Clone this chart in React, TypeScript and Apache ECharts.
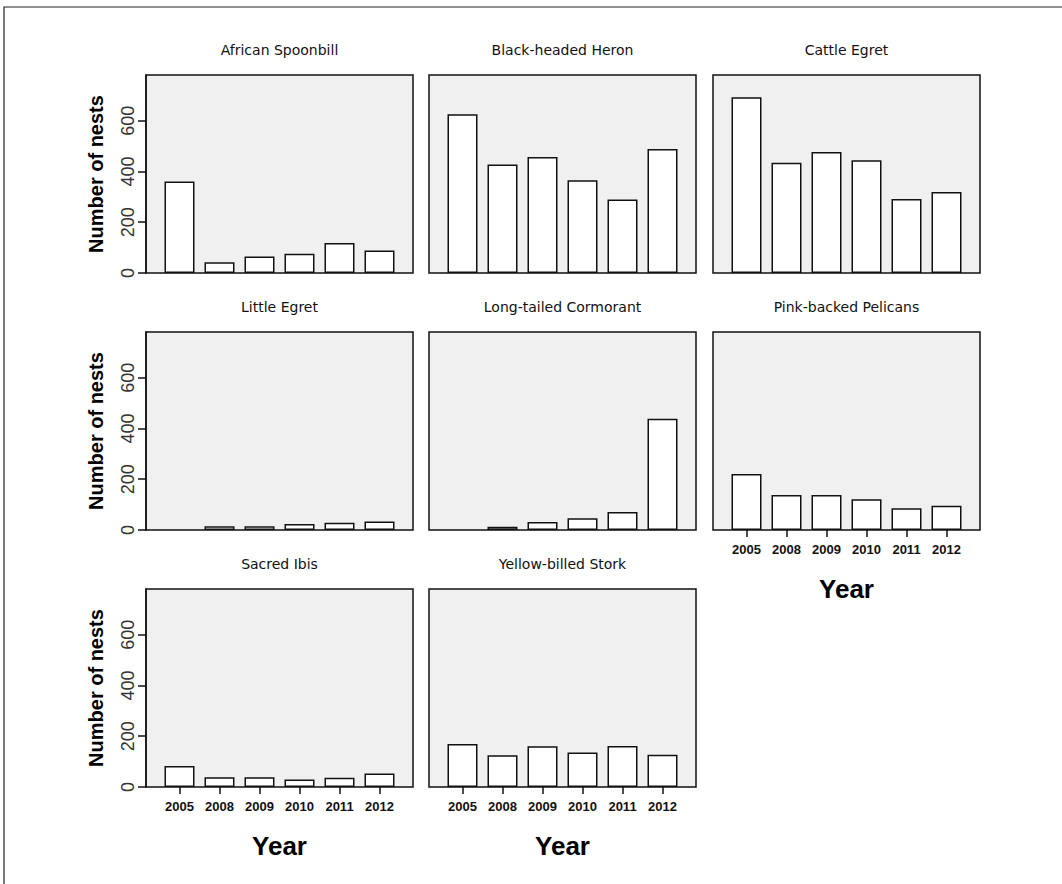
import React, { useEffect, useRef } from "react";
import * as echarts from "echarts";

const YEARS = ["2005", "2008", "2009", "2010", "2011", "2012"];
const Y_TICKS = [0, 200, 400, 600];
const Y_MAX = 780;

const AFRICAN_SPOONBILL = [360, 42, 65, 76, 118, 89];
const BLACK_HEADED_HERON = [625, 427, 457, 365, 290, 488];
const CATTLE_EGRET = [692, 434, 477, 444, 292, 319];
const LITTLE_EGRET = [null, 15, 15, 24, 29, 33];
const LONG_TAILED_CORMORANT = [null, 13, 32, 46, 71, 438];
const PINK_BACKED_PELICANS = [221, 138, 138, 121, 86, 96];
const SACRED_IBIS = [83, 38, 38, 30, 36, 53];
const YELLOW_BILLED_STORK = [169, 125, 161, 136, 162, 127];

const PANELS = [
  { name: "African Spoonbill", values: AFRICAN_SPOONBILL },
  { name: "Black-headed Heron", values: BLACK_HEADED_HERON },
  { name: "Cattle Egret", values: CATTLE_EGRET },
  { name: "Little Egret", values: LITTLE_EGRET },
  { name: "Long-tailed Cormorant", values: LONG_TAILED_CORMORANT },
  { name: "Pink-backed Pelicans", values: PINK_BACKED_PELICANS },
  { name: "Sacred Ibis", values: SACRED_IBIS },
  { name: "Yellow-billed Stork", values: YELLOW_BILLED_STORK },
];

const COL_LEFT = [146, 429, 713];
const ROW_TOP = [75, 332, 589];
const BOX_W = 267;
const BOX_H = 198;
const INNER_OFFSET = 13.5;
const INNER_W = 240;
const FONT = "'Liberation Sans', Arial, sans-serif";
const TITLE_FONT = "'DejaVu Sans', 'Liberation Sans', sans-serif";

function buildOption() {
  const grid: any[] = [];
  const xAxis: any[] = [];
  const yAxis: any[] = [];
  const series: any[] = [];
  const graphic: any[] = [];

  PANELS.forEach((p, i) => {
    const row = Math.floor(i / 3);
    const col = i % 3;
    const left = COL_LEFT[col];
    const top = ROW_TOP[row];
    const showX = row === 2 || (row === 1 && col === 2);
    const showY = col === 0;

    // box grid
    grid.push({
      left,
      top,
      width: BOX_W,
      height: BOX_H,
      show: true,
      backgroundColor: "#f0f0f0",
      borderColor: "#111",
      borderWidth: 1.5,
      containLabel: false,
    });
    const boxIdx = grid.length - 1;
    xAxis.push({ gridIndex: boxIdx, type: "category", data: YEARS, show: false });
    yAxis.push({
      gridIndex: boxIdx,
      type: "value",
      min: 0,
      max: Y_MAX,
      show: showY,
      splitLine: { show: false },
      axisLine: { show: true, lineStyle: { color: "#111", width: 1.5 } },
      axisTick: {
        show: true,
        length: 8,
        customValues: Y_TICKS,
        lineStyle: { color: "#111", width: 1.5 },
      },
      axisLabel: {
        show: true,
        rotate: 90,
        margin: 9,
        customValues: Y_TICKS,
        fontSize: 18,
        color: "#333",
        fontFamily: FONT,
      },
      name: showY ? "Number of nests" : "",
      nameLocation: "middle",
      nameGap: 40,
      nameTextStyle: { fontSize: 20, fontWeight: "bold", color: "#000", fontFamily: FONT },
    });

    // inner grid for bars
    grid.push({
      left: left + INNER_OFFSET,
      top,
      width: INNER_W,
      height: BOX_H,
      show: false,
    });
    const innerIdx = grid.length - 1;
    xAxis.push({
      gridIndex: innerIdx,
      type: "category",
      data: YEARS,
      boundaryGap: true,
      axisLine: { show: false },
      axisTick: {
        show: showX,
        alignWithLabel: true,
        length: 7,
        lineStyle: { color: "#111", width: 1.5 },
      },
      axisLabel: {
        show: showX,
        margin: 13,
        fontSize: 13,
        fontWeight: "bold",
        color: "#111",
        fontFamily: FONT,
      },
      name: showX ? "Year" : "",
      nameLocation: "middle",
      nameGap: 46,
      nameTextStyle: { fontSize: 26, fontWeight: "bold", color: "#000", fontFamily: FONT },
    });
    yAxis.push({ gridIndex: innerIdx, type: "value", min: 0, max: Y_MAX, show: false });

    series.push({
      type: "bar",
      name: p.name,
      xAxisIndex: xAxis.length - 1,
      yAxisIndex: yAxis.length - 1,
      data: p.values.map((v) => (v === null ? "-" : v)),
      barWidth: 30,
      itemStyle: { color: "#fff", borderColor: "#111", borderWidth: 1.5 },
      silent: true,
    });

    graphic.push({
      type: "text",
      x: left + BOX_W / 2,
      y: top - 25,
      style: {
        text: p.name,
        align: "center",
        verticalAlign: "middle",
        fontSize: 14,
        fontFamily: TITLE_FONT,
        fill: "#111",
      },
    });
  });

  graphic.push({
    type: "polyline",
    shape: { points: [[4, 884], [4, 7], [1062, 7]] },
    style: { stroke: "#222", lineWidth: 1.2, fill: null },
  });

  return {
    animation: false,
    backgroundColor: "#fff",
    grid,
    xAxis,
    yAxis,
    series,
    graphic,
  };
}

export default function App() {
  const ref = useRef<HTMLDivElement>(null);
  useEffect(() => {
    if (!ref.current) return;
    const chart = echarts.init(ref.current, undefined, { renderer: "svg" });
    chart.setOption(buildOption() as any);
    return () => chart.dispose();
  }, []);
  return (
    <div
      ref={ref}
      style={{ position: "fixed", left: 0, top: 0, width: 1062, height: 884, background: "#fff" }}
    />
  );
}
